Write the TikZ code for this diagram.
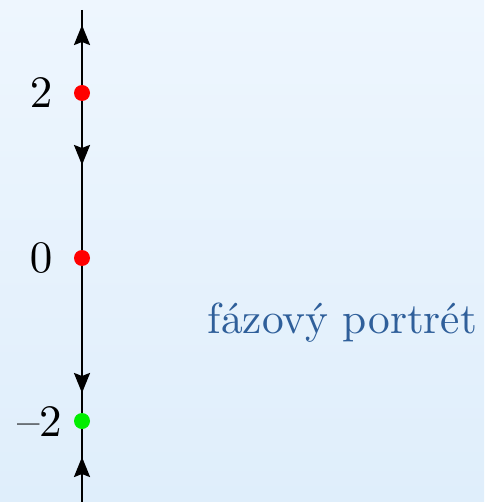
\documentclass[tikz,border=0pt]{standalone}
\usepackage{fontspec}
\usepackage{graphicx}
\usepackage{tikz}
\usetikzlibrary{positioning,arrows.meta,backgrounds}
\definecolor{bgtop}{HTML}{EEF6FE}
\definecolor{bgbot}{HTML}{DFEEFB}
\definecolor{title}{HTML}{2F5F9A}
\definecolor{stab}{HTML}{00EE00}
\newcommand{\slidetext}[2][2.25]{\scalebox{#1}{#2}}
\tikzset{
  dot/.style={circle, inner sep=0pt, minimum size=8pt},
  num/.style={font=\fontsize{10}{12}\selectfont, inner sep=0pt},
  axis/.style={line width=1.1pt},
  arr/.style={-{Stealth[length=10pt, width=8pt, inset=1.5pt]}, line width=1.1pt},
}

\begin{document}
\begin{tikzpicture}[x=0.5pt, y=-0.5pt]
  \useasboundingbox (0,0) rectangle (484,502);
  % equilibria
  \node[dot, fill=red] (p2) at (82,93) {};
  \node[dot, fill=red] (p0) at (82,258) {};
  \node[dot, fill=stab] (pm2) at (82,421) {};
  \node[num] (l2) at (41,93) {\slidetext{$2$}};
  \node[num] (l0) at (41,258) {\slidetext{$0$}};
  \node[num] (lm2) at (40,422) {\slidetext{--2}};
  \node[num, text=title, anchor=base] (cap) at (342.5,333) {\slidetext[2.17]{fázový portrét}};
  % ends of the axis and arrow tips
  \coordinate (top) at (82,10);
  \coordinate (bot) at (82,502);
  \coordinate (a1) at (82,25);
  \coordinate (a2) at (82,165);
  \coordinate (a3) at (82,393);
  \coordinate (a4) at (82,457);
  \begin{scope}[on background layer]
    \shade[top color=bgtop, bottom color=bgbot] (0,0) rectangle (484,502);
    \draw[axis] (top) -- (bot);
    \draw[arr] (p2) -- (a1);
    \draw[arr] (p2) -- (a2);
    \draw[arr] (p0) -- (a3);
    \draw[arr] (bot) -- (a4);
  \end{scope}
\end{tikzpicture}
\end{document}
